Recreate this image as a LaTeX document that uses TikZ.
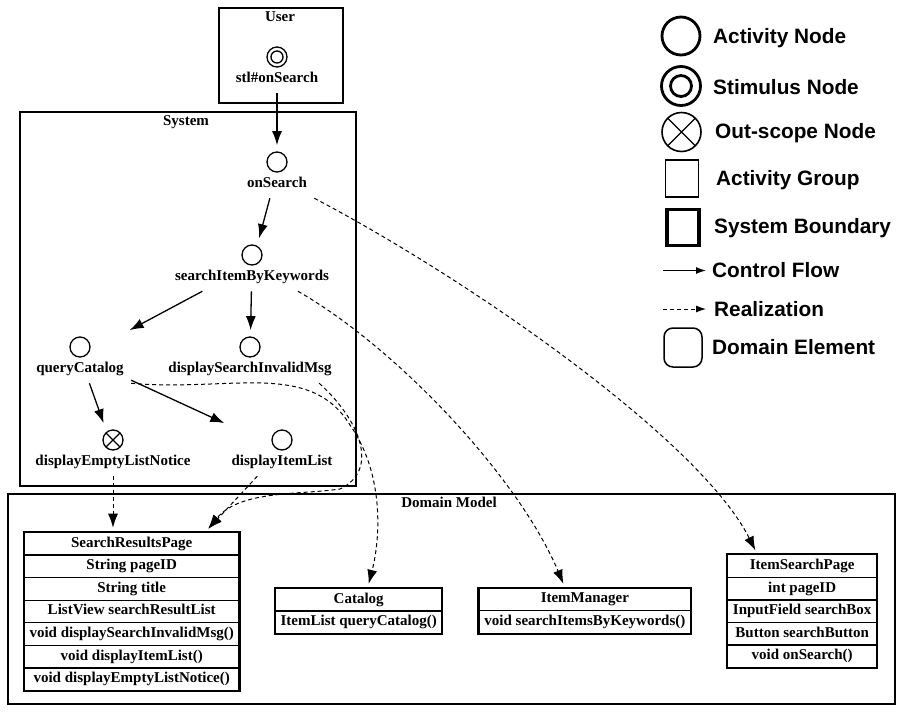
\documentclass[tikz,border=0pt]{standalone}
\usepackage{fontspec}
\setmainfont{Liberation Serif}
\newfontfamily\legendfont{Liberation Sans}
\usetikzlibrary{arrows.meta,fit,positioning}
\begin{document}
\begin{tikzpicture}[x=1pt,y=-1pt]
\def\rowh{22.6}
\tikzset{base/.style={draw,line width=1.3pt},>={Latex[length=14pt,width=10pt]},
txt/.style={font=\bfseries\fontsize{15}{17}\selectfont,text height=10.5pt,text depth=3.5pt},
lbl/.style={txt,inner sep=1pt},
act/.style={base,circle,minimum size=20pt,inner sep=0pt},
stim/.style={act,path picture={\draw[line width=1.3pt] (path picture bounding box.center) circle (6pt);}},
oos/.style={act,path picture={\draw[line width=1.1pt] (path picture bounding box.north west) -- (path picture bounding box.south east)
  (path picture bounding box.north east) -- (path picture bounding box.south west);}},
grp/.style={inner sep=6pt},
box/.style={draw,line width=2.4pt,anchor=north west,inner sep=0pt},
row/.style={txt,draw,line width=1.3pt,minimum width=#1,minimum height=\rowh pt,inner sep=0pt,anchor=north},
flow/.style={base,->},
real/.style={draw,line width=1pt,dash pattern=on 4pt off 3pt,->,shorten >=4pt},
leg/.style={font=\legendfont\bfseries\fontsize{20.8}{24}\selectfont,anchor=west,inner sep=0pt}}
\useasboundingbox (0,0) rectangle (903,713);
% groups
\node[box,minimum width=124pt,minimum height=95pt] (User) at (218,7) {};
\node[lbl] (User-t) at (280,17.5) {User};
\node[box,minimum width=336pt,minimum height=374pt] (System) at (19,111) {};
\node[lbl] (System-t) at (186,122) {System};
\node[box,minimum width=887pt,minimum height=210pt] (Domain) at (7,493) {};
\node[lbl] (Domain-t) at (449,504) {Domain Model};
% activity nodes
\foreach \n/\x/\y/\s/\t in {stl/277/57/stim/stl\#onSearch,
  onSearch/277/162/act/onSearch,
  sIBK/252/255/act/searchItemByKeywords,
  qc/80/347/act/queryCatalog,
  dSIM/250/347/act/displaySearchInvalidMsg,
  dELN/113/440/oos/displayEmptyListNotice,
  dIL/282/440/act/displayItemList}{
  \node[\s] (\n-c) at (\x,\y) {};
  \node[lbl,below=3pt of \n-c] (\n-l) {\t};
  \node[grp,fit=(\n-c)(\n-l)] (\n) {};
}
% domain elements
\foreach \c/\x/\y/\w/\k/\rows in {SRP/131.7/531.7/214.7/7/{SearchResultsPage,String pageID,String title,ListView searchResultList,void displaySearchInvalidMsg(),void displayItemList(),void displayEmptyListNotice()},
  CAT/358.7/587.7/166/2/{Catalog,ItemList queryCatalog()},
  IM/584.9/587.5/211.7/2/{ItemManager,void searchItemsByKeywords()},
  ISP/802.2/554/149/5/{ItemSearchPage,int pageID,InputField searchBox,Button searchButton,void onSearch()}}{
  \foreach \t [count=\i] in \rows
    \node[row=\w pt] (\c-\i) at (\x,{\y+(\i-1)*\rowh}) {\t};
  \draw[line width=2pt] (\c-1.north west) rectangle (\c-\k.south east);
}
% control flow
\draw[flow] (stl) -- (onSearch);
\draw[flow] (onSearch) -- (sIBK);
\draw[flow] (sIBK) -- (qc);
\draw[flow] (sIBK) -- (dSIM);
\draw[flow] (qc) -- (dELN);
\draw[flow] (qc) -- (dIL);
% realization
\draw[real] (onSearch.south east) .. controls (470,280) and (700,440) .. ([xshift=-45pt]ISP-1.north);
\draw[real] (sIBK.-30) .. controls (400,350) and (520,480) .. ([xshift=-20pt]IM-1.north);
\draw[real] (qc.south east) .. controls (230,392) and (310,360) .. (350,425)
  .. controls (385,475) and (380,540) .. ([xshift=9pt]CAT-1.north);
\draw[real] (dSIM.-21) .. controls (360,420) and (380,470) .. (340,489)
  .. controls (300,495) and (240,490) .. ([xshift=-34pt]SRP-1.north east);
\draw[real] (dIL) -- ([xshift=-34pt]SRP-1.north east);
\draw[real] (dELN) -- (SRP-1.north -| dELN);
% legend
\node[act,minimum size=38pt,line width=2.8pt] (L-act) at (681,36) {};
\node[leg] (L-act-t) at (713,38) {Activity Node};
\node[act,minimum size=39pt,line width=2.8pt] (L-stim) at (681,86) {};
\node[act,minimum size=21pt,line width=2.8pt] (L-stim-in) at (L-stim) {};
\node[leg] (L-stim-t) at (713,87) {Stimulus Node};
\node[oos,minimum size=39pt,line width=1.6pt] (L-oos) at (681.5,132) {};
\node[leg] (L-oos-t) at (715,133) {Out-scope Node};
\node[draw,line width=1.5pt,minimum width=33pt,minimum height=37pt] (L-grp) at (682,178.5) {};
\node[leg] (L-grp-t) at (716,180) {Activity Group};
\node[draw,line width=3.2pt,minimum width=32pt,minimum height=36pt] (L-sys) at (683,227.5) {};
\node[leg] (L-sys-t) at (714,228) {System Boundary};
\coordinate (L-flow-a) at (663,270.5);
\coordinate (L-flow-b) at (706,270.5);
\draw[>={Latex[length=10pt,width=7pt]},flow] (L-flow-a) -- (L-flow-b);
\node[leg] (L-flow-t) at (712,270) {Control Flow};
\coordinate (L-real-a) at (663,309);
\coordinate (L-real-b) at (706,309);
\draw[>={Latex[length=10pt,width=7pt]},real,shorten >=0pt] (L-real-a) -- (L-real-b);
\node[leg] (L-real-t) at (714,309) {Realization};
\node[draw,rounded corners=9pt,line width=1.5pt,minimum width=38pt,minimum height=39pt] (L-dom) at (683,347.5) {};
\node[leg] (L-dom-t) at (712,347) {Domain Element};
\end{tikzpicture}
\end{document}
